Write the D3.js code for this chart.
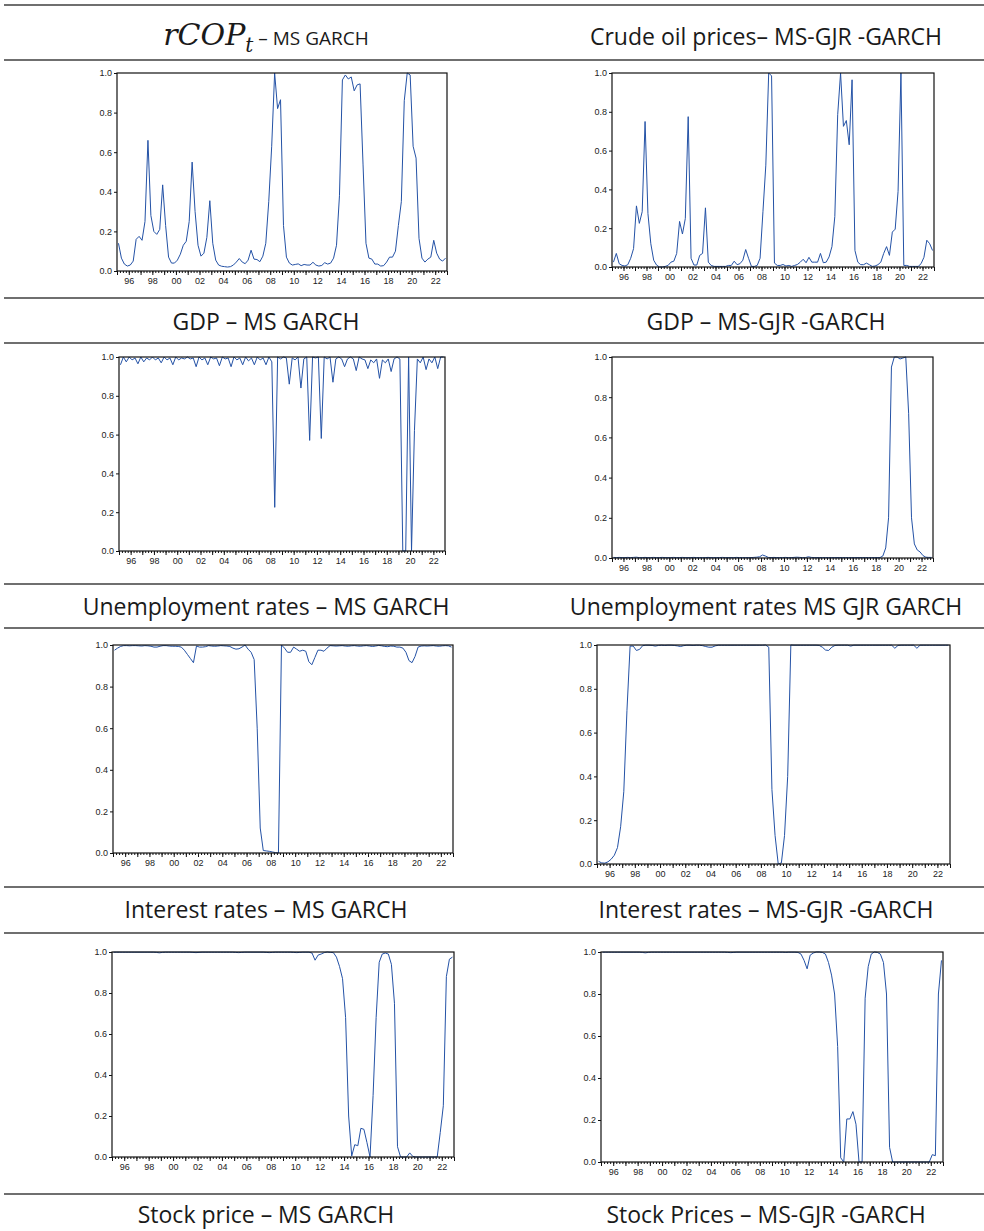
<!DOCTYPE html>
<html lang="en">
<head>
<meta charset="UTF-8">
<title>Regime probabilities - MS GARCH and MS-GJR-GARCH</title>
<script src="https://d3js.org/d3.v7.min.js"></script>
<style>
  body { margin: 0; background: #fff; }
  .title { font-family: "Open Sans", "Noto Sans", sans-serif; font-size: 23px; fill: #1a1a1a; }
  .axis text { font-family: "Liberation Sans", Arial, sans-serif; font-size: 9px; fill: #222; }
  .axis path, .axis line { stroke: #111; }
</style>
</head>
<body>
<svg id="page" width="984" height="1231"></svg>
<script>
// quarterly sample 1995Q1 - 2022Q4
const firstYear = 1995;
const nQuarters = 112;
const xTickYears = [1996, 1998, 2000, 2002, 2004, 2006, 2008, 2010, 2012, 2014, 2016, 2018, 2020, 2022];
const xTickLabels = ["96", "98", "00", "02", "04", "06", "08", "10", "12", "14", "16", "18", "20", "22"];
const yTickValues = [0, 0.2, 0.4, 0.6, 0.8, 1.0];
const yTickLabels = ["0.0", "0.2", "0.4", "0.6", "0.8", "1.0"];

// titles, left / right column, one row per table line
const leftTitles = ["rCOP", "GDP – MS GARCH", "Unemployment rates – MS GARCH", "Interest rates – MS GARCH", "Stock price – MS GARCH"];
const rightTitles = ["Crude oil prices– MS-GJR -GARCH", "GDP – MS-GJR -GARCH", "Unemployment rates MS GJR GARCH", "Interest rates – MS-GJR -GARCH", "Stock Prices – MS-GJR -GARCH"];

// smoothed regime probabilities
const rcopMsGarch = [
  0.14, 0.065, 0.035, 0.025, 0.03, 0.05, 0.16, 0.175, 0.155, 0.25, 0.66, 0.28, 0.2, 0.185, 0.21, 0.435,
  0.23, 0.07, 0.04, 0.04, 0.055, 0.085, 0.13, 0.15, 0.25, 0.55, 0.30, 0.13, 0.075, 0.09, 0.17, 0.355,
  0.14, 0.055, 0.03, 0.024, 0.022, 0.02, 0.022, 0.03, 0.045, 0.063, 0.045, 0.037, 0.055, 0.105, 0.06, 0.058,
  0.047, 0.075, 0.14, 0.35, 0.63, 1.0, 0.82, 0.865, 0.23, 0.07, 0.04, 0.03, 0.033, 0.036, 0.027, 0.033,
  0.03, 0.03, 0.044, 0.03, 0.025, 0.028, 0.042, 0.035, 0.04, 0.065, 0.13, 0.38, 0.965, 0.99, 0.97, 0.98,
  0.91, 0.94, 0.945, 0.54, 0.14, 0.065, 0.06, 0.035, 0.035, 0.025, 0.027, 0.045, 0.07, 0.07, 0.1, 0.23,
  0.35, 0.86, 1.0, 0.99, 0.63, 0.57, 0.165, 0.065, 0.045, 0.06, 0.07, 0.155, 0.09, 0.06, 0.05, 0.065
];
const oilMsGjr = [
  0.025, 0.07, 0.017, 0.008, 0.005, 0.012, 0.045, 0.095, 0.315, 0.225, 0.285, 0.75, 0.275, 0.12, 0.035, 0.01,
  0.0, 0.0, 0.003, 0.008, 0.025, 0.03, 0.07, 0.235, 0.17, 0.25, 0.775, 0.045, 0.01, 0.01, 0.06, 0.07,
  0.305, 0.025, 0.008, 0.003, 0.003, 0.003, 0.003, 0.003, 0.008, 0.008, 0.03, 0.012, 0.017, 0.035, 0.09, 0.045,
  0.003, 0.003, 0.008, 0.045, 0.285, 0.525, 1.0, 0.985, 0.02, 0.008, 0.008, 0.013, 0.005, 0.008, 0.003, 0.008,
  0.013, 0.025, 0.04, 0.022, 0.05, 0.025, 0.025, 0.025, 0.07, 0.022, 0.025, 0.052, 0.105, 0.26, 0.785, 1.0,
  0.725, 0.755, 0.63, 0.965, 0.085, 0.025, 0.012, 0.012, 0.02, 0.012, 0.003, 0.005, 0.012, 0.025, 0.07, 0.105,
  0.06, 0.18, 0.195, 0.39, 1.0, 0.008, 0.008, 0.003, 0.003, 0.003, 0.003, 0.017, 0.05, 0.138, 0.12, 0.085
];
const gdpMsGarch = [
  0.96, 1.0, 0.975, 1.0, 0.985, 0.995, 0.965, 1.0, 0.975, 0.995, 0.985, 1.0, 0.985, 0.995, 0.97, 1.0,
  0.985, 0.995, 0.96, 1.0, 0.985, 0.995, 0.99, 1.0, 0.99, 0.995, 0.95, 1.0, 0.985, 0.995, 0.96, 1.0,
  0.99, 0.995, 0.955, 1.0, 0.99, 0.995, 0.95, 1.0, 0.985, 0.995, 0.96, 1.0, 0.98, 0.995, 0.96, 1.0,
  0.985, 0.995, 0.96, 1.0, 0.975, 0.225, 1.0, 0.99, 1.0, 0.995, 0.86, 0.995, 0.985, 1.0, 0.84, 0.99,
  1.0, 0.57, 1.0, 0.995, 1.0, 0.58, 1.0, 0.99, 1.0, 0.87, 0.99, 1.0, 0.99, 0.95, 0.99, 1.0,
  0.99, 0.93, 1.0, 0.99, 0.985, 0.94, 0.985, 0.97, 0.99, 0.89, 0.985, 0.97, 0.99, 0.925, 0.99, 1.0,
  0.99, 0.0, 0.0, 1.0, 0.0, 0.62, 0.99, 0.97, 1.0, 0.935, 0.99, 0.97, 1.0, 0.94, 1.0, 1.0
];
const gdpMsGjr = [
  0.003, 0.002, 0.003, 0.002, 0.002, 0.003, 0.002, 0.003, 0.004, 0.002, 0.002, 0.003, 0.002, 0.002, 0.003, 0.002,
  0.002, 0.003, 0.002, 0.002, 0.002, 0.003, 0.002, 0.002, 0.003, 0.002, 0.002, 0.002, 0.003, 0.002, 0.002, 0.002,
  0.002, 0.003, 0.002, 0.002, 0.002, 0.002, 0.003, 0.002, 0.002, 0.002, 0.002, 0.003, 0.002, 0.002, 0.002, 0.002,
  0.002, 0.003, 0.004, 0.006, 0.015, 0.01, 0.003, 0.002, 0.003, 0.002, 0.002, 0.002, 0.003, 0.002, 0.002, 0.003,
  0.004, 0.003, 0.002, 0.002, 0.006, 0.003, 0.002, 0.002, 0.002, 0.002, 0.002, 0.002, 0.002, 0.002, 0.002, 0.002,
  0.002, 0.002, 0.002, 0.002, 0.002, 0.002, 0.002, 0.002, 0.002, 0.002, 0.002, 0.002, 0.002, 0.002, 0.01, 0.05,
  0.2, 0.95, 1.0, 1.0, 0.99, 0.995, 1.0, 0.72, 0.2, 0.07, 0.04, 0.03, 0.012, 0.004, 0.003, 0.003
];
const unempMsGarch = [
  0.975, 0.985, 0.993, 0.997, 0.997, 0.996, 0.997, 0.997, 0.996, 0.995, 0.997, 0.996, 0.994, 0.99, 0.99, 0.994,
  0.997, 0.997, 0.995, 0.994, 0.994, 0.993, 0.99, 0.975, 0.955, 0.935, 0.915, 0.995, 0.99, 0.99, 0.992, 0.997,
  0.995, 0.994, 0.995, 0.997, 0.996, 0.995, 0.993, 0.985, 0.98, 0.982, 0.99, 1.0, 0.98, 0.965, 0.93, 0.6,
  0.12, 0.012, 0.01, 0.008, 0.005, 0.002, 0.0, 1.0, 0.985, 0.965, 0.965, 0.99, 0.98, 0.97, 0.975, 0.97,
  0.92, 0.905, 0.94, 0.975, 0.975, 0.97, 0.985, 0.997, 0.996, 0.995, 0.996, 0.997, 0.995, 0.994, 0.996, 0.997,
  0.995, 0.994, 0.996, 0.997, 0.995, 0.993, 0.995, 0.998, 0.996, 0.993, 0.992, 0.995, 0.994, 0.99, 0.99, 0.985,
  0.965, 0.925, 0.915, 0.945, 0.99, 0.995, 0.996, 0.995, 0.996, 0.997, 0.995, 0.994, 0.996, 0.997, 0.996, 0.99
];
const unempMsGjr = [
  0.012, 0.005, 0.004, 0.01, 0.022, 0.04, 0.075, 0.17, 0.33, 0.7, 0.995, 0.995, 0.975, 0.98, 0.997, 0.999,
  0.999, 0.998, 0.995, 0.998, 0.999, 0.998, 0.999, 0.999, 0.998, 0.996, 0.993, 0.997, 0.999, 0.999, 0.998, 0.999,
  0.999, 0.997, 0.993, 0.99, 0.99, 0.996, 0.999, 0.999, 0.999, 0.999, 0.999, 0.999, 0.999, 0.999, 0.999, 0.999,
  0.999, 0.999, 0.999, 0.999, 0.999, 1.0, 0.99, 0.34, 0.13, 0.0, 0.005, 0.13, 0.4, 1.0, 0.999, 0.999,
  0.999, 0.999, 0.999, 0.999, 0.999, 0.999, 0.998, 0.99, 0.977, 0.975, 0.99, 0.998, 0.999, 0.999, 0.999, 0.999,
  0.995, 0.999, 0.999, 0.999, 0.999, 0.999, 0.999, 0.999, 0.999, 0.999, 0.999, 0.999, 0.999, 0.999, 0.985, 0.998,
  0.999, 0.999, 0.999, 0.999, 0.999, 0.985, 0.999, 0.999, 0.999, 0.999, 0.999, 0.999, 0.999, 0.999, 0.999, 0.999
];
const rateMsGarch = [
  0.999, 0.999, 0.999, 0.999, 0.999, 0.999, 0.999, 0.999, 0.999, 0.999, 0.999, 0.999, 0.999, 0.999, 0.998, 0.996,
  0.998, 0.999, 0.999, 0.999, 0.999, 0.999, 0.999, 0.999, 0.999, 0.999, 0.998, 0.997, 0.998, 0.999, 0.999, 0.999,
  0.999, 0.999, 0.999, 0.999, 0.999, 0.999, 0.999, 0.999, 0.998, 0.997, 0.998, 0.999, 0.999, 0.999, 0.999, 0.999,
  0.999, 0.999, 0.998, 0.997, 0.998, 0.999, 0.999, 0.999, 0.999, 0.999, 0.999, 0.998, 0.997, 0.998, 0.999, 0.999,
  0.999, 0.995, 0.96, 0.985, 0.99, 0.997, 1.0, 0.998, 0.997, 0.975, 0.93, 0.87, 0.68, 0.2, 0.005, 0.06,
  0.055, 0.14, 0.135, 0.07, 0.0, 0.3, 0.68, 0.95, 0.99, 0.995, 0.99, 0.94, 0.75, 0.05, 0.0, 0.0,
  0.0, 0.02, 0.003, 0.0, 0.0, 0.0, 0.0, 0.0, 0.0, 0.0, 0.0, 0.12, 0.25, 0.88, 0.965, 0.975
];
const rateMsGjr = [
  0.999, 0.999, 0.999, 0.999, 0.999, 0.999, 0.999, 0.999, 0.999, 0.999, 0.999, 0.999, 0.999, 0.998, 0.996, 0.998,
  0.999, 0.999, 0.999, 0.999, 0.999, 0.999, 0.999, 0.999, 0.999, 0.999, 0.999, 0.999, 0.999, 0.999, 0.999, 0.999,
  0.999, 0.999, 0.999, 0.999, 0.999, 0.999, 0.999, 0.999, 0.999, 0.998, 0.997, 0.998, 0.999, 0.999, 0.999, 0.999,
  0.999, 0.999, 0.999, 0.999, 0.999, 0.999, 0.999, 0.999, 0.999, 0.999, 0.999, 0.999, 0.998, 0.999, 0.999, 0.999,
  0.998, 0.99, 0.96, 0.92, 0.985, 0.995, 1.0, 1.0, 0.998, 0.99, 0.95, 0.89, 0.8, 0.55, 0.02, 0.0,
  0.205, 0.205, 0.24, 0.18, 0.0, 0.0, 0.78, 0.93, 0.99, 1.0, 0.998, 0.99, 0.95, 0.8, 0.07, 0.0,
  0.0, 0.0, 0.0, 0.0, 0.0, 0.0, 0.0, 0.0, 0.0, 0.0, 0.0, 0.0, 0.035, 0.03, 0.8, 0.96
];

// plot boxes in page pixels
const panels = [
  { values: rcopMsGarch,  x0: 117, x1: 447, y0: 73,  y1: 271 },
  { values: oilMsGjr,     x0: 612, x1: 934, y0: 73,  y1: 267 },
  { values: gdpMsGarch,   x0: 119, x1: 445, y0: 357, y1: 551 },
  { values: gdpMsGjr,     x0: 612, x1: 933, y0: 357, y1: 558 },
  { values: unempMsGarch, x0: 113, x1: 453, y0: 645, y1: 853 },
  { values: unempMsGjr,   x0: 597, x1: 950, y0: 645, y1: 864 },
  { values: rateMsGarch,  x0: 112, x1: 454, y0: 952, y1: 1157 },
  { values: rateMsGjr,    x0: 601, x1: 943, y0: 952, y1: 1162 }
];

const svg = d3.select("#page");

// table rules
const ruleY = [5, 60, 298, 343, 584, 628, 887, 933, 1194];
svg.selectAll(".rule")
  .data(ruleY)
  .enter()
  .append("line")
  .attr("class", "rule")
  .attr("x1", 4).attr("x2", 984)
  .attr("y1", d => d).attr("y2", d => d)
  .attr("stroke", "#6f6f6f")
  .attr("stroke-width", 2);

// row titles
const titleY = [45, 330, 615, 918, 1223];
const leftX = 266, rightX = 766;

titleY.forEach((ty, i) => {
  const t = svg.append("text").attr("class", "title")
    .attr("x", leftX).attr("y", ty).attr("text-anchor", "middle");
  if (i === 0) {
    t.append("tspan")
      .style("font-family", "'DejaVu Serif', 'Liberation Serif', serif")
      .style("font-style", "italic")
      .style("font-size", "30px")
      .text(leftTitles[0]);
    t.append("tspan")
      .attr("dy", 7)
      .style("font-family", "'DejaVu Serif', 'Liberation Serif', serif")
      .style("font-style", "italic")
      .style("font-size", "20px")
      .text("t");
    t.append("tspan")
      .attr("dy", -7)
      .style("font-size", "19px")
      .text("  – MS GARCH");
  } else {
    t.text(leftTitles[i]);
  }
  svg.append("text").attr("class", "title")
    .attr("x", rightX).attr("y", ty).attr("text-anchor", "middle")
    .text(rightTitles[i]);
});

const line = (x, y) => d3.line()
  .x((d, i) => x(i + 0.5))
  .y(d => y(d));

panels.forEach(p => {
  const x = d3.scaleLinear().domain([0, nQuarters]).range([p.x0, p.x1]);
  const y = d3.scaleLinear().domain([0, 1]).range([p.y1, p.y0]);
  const g = svg.append("g");

  // quarterly minor ticks
  g.append("g").attr("class", "axis")
    .attr("transform", `translate(0,${p.y1})`)
    .call(d3.axisBottom(x).tickValues(d3.range(0, nQuarters + 1)).tickSize(2).tickFormat(""))
    .call(a => a.select(".domain").remove());

  // yearly ticks
  g.append("g").attr("class", "axis")
    .attr("transform", `translate(0,${p.y1})`)
    .call(d3.axisBottom(x).tickValues(d3.range(0, nQuarters + 1, 4)).tickSize(4).tickFormat(""))
    .call(a => a.select(".domain").remove());

  // year labels
  g.append("g").attr("class", "axis")
    .attr("transform", `translate(0,${p.y1})`)
    .call(d3.axisBottom(x)
      .tickValues(xTickYears.map(yr => (yr - firstYear) * 4))
      .tickSize(0).tickPadding(7)
      .tickFormat((d, i) => xTickLabels[i]))
    .call(a => a.select(".domain").remove());

  g.append("g").attr("class", "axis")
    .attr("transform", `translate(${p.x0},0)`)
    .call(d3.axisLeft(y)
      .tickValues(yTickValues)
      .tickSize(3).tickPadding(2)
      .tickFormat((d, i) => yTickLabels[i]))
    .call(a => a.select(".domain").remove());

  g.append("path")
    .datum(p.values)
    .attr("d", line(x, y))
    .attr("fill", "none")
    .attr("stroke", "#2452a6")
    .attr("stroke-width", 1);

  g.append("rect")
    .attr("x", p.x0).attr("y", p.y0)
    .attr("width", p.x1 - p.x0).attr("height", p.y1 - p.y0)
    .attr("fill", "none")
    .attr("stroke", "#111")
    .attr("stroke-width", 1.2);
});
</script>
</body>
</html>
